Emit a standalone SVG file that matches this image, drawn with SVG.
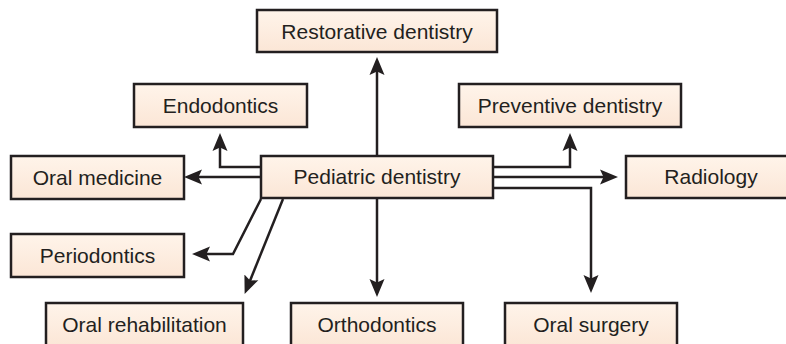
<svg xmlns="http://www.w3.org/2000/svg" width="786" height="344" viewBox="0 0 786 344">
<style>
.box{fill:url(#g);stroke:#231f20;stroke-width:2.5}
.lbl{font-family:"Liberation Sans",Arial,sans-serif;font-size:21px;fill:#231f20;text-anchor:middle}
.c{fill:none;stroke:#231f20;stroke-width:2.5;marker-end:url(#ah)}
</style>
<defs>
<linearGradient id="g" x1="0" y1="0" x2="0" y2="1">
<stop offset="0" stop-color="#fff4ea"/>
<stop offset="1" stop-color="#fbe6d6"/>
</linearGradient>
<marker id="ah" markerUnits="userSpaceOnUse" markerWidth="20" markerHeight="18" viewBox="0 -9 20 18" refX="5" refY="0" orient="auto">
<path d="M0,-7.5 L18,0 L0,7.5 L3.5,0 Z" fill="#231f20"/>
</marker>
</defs>
<rect width="786" height="344" fill="#ffffff"/>
<g id="connectors">
<path class="c" d="M377,156 V70"/>
<path class="c" d="M261,167 H220 V146"/>
<path class="c" d="M493,167 H570 V146"/>
<path class="c" d="M261,177 H197"/>
<path class="c" d="M493,177 H605"/>
<path class="c" d="M493,188 H591 V280"/>
<path class="c" d="M261,199 L233,254 H205"/>
<path class="c" d="M283,199 L249.5,282"/>
<path class="c" d="M377,198 V284"/>
</g>
<g id="restorative"><rect class="box" x="257" y="10" width="240" height="42"/><text class="lbl" x="377" y="38.5">Restorative dentistry</text></g>
<g id="endodontics"><rect class="box" x="134" y="84" width="173" height="43"/><text class="lbl" x="220.5" y="113">Endodontics</text></g>
<g id="preventive"><rect class="box" x="459" y="84" width="222" height="43"/><text class="lbl" x="570" y="113">Preventive dentistry</text></g>
<g id="pediatric"><rect class="box" x="261" y="156" width="232" height="42"/><text class="lbl" x="377" y="184">Pediatric dentistry</text></g>
<g id="oral-medicine"><rect class="box" x="11" y="156" width="173" height="43"/><text class="lbl" x="97.5" y="185">Oral medicine</text></g>
<g id="radiology"><rect class="box" x="626" y="156" width="172" height="42"/><text class="lbl" x="711" y="184">Radiology</text></g>
<g id="periodontics"><rect class="box" x="11" y="234" width="173" height="43"/><text class="lbl" x="97.5" y="263">Periodontics</text></g>
<g id="oral-rehabilitation"><rect class="box" x="46" y="303" width="197" height="44"/><text class="lbl" x="144.5" y="332">Oral rehabilitation</text></g>
<g id="orthodontics"><rect class="box" x="291" y="303" width="172" height="44"/><text class="lbl" x="377" y="332">Orthodontics</text></g>
<g id="oral-surgery"><rect class="box" x="505" y="303" width="172" height="44"/><text class="lbl" x="591" y="332">Oral surgery</text></g>
</svg>
